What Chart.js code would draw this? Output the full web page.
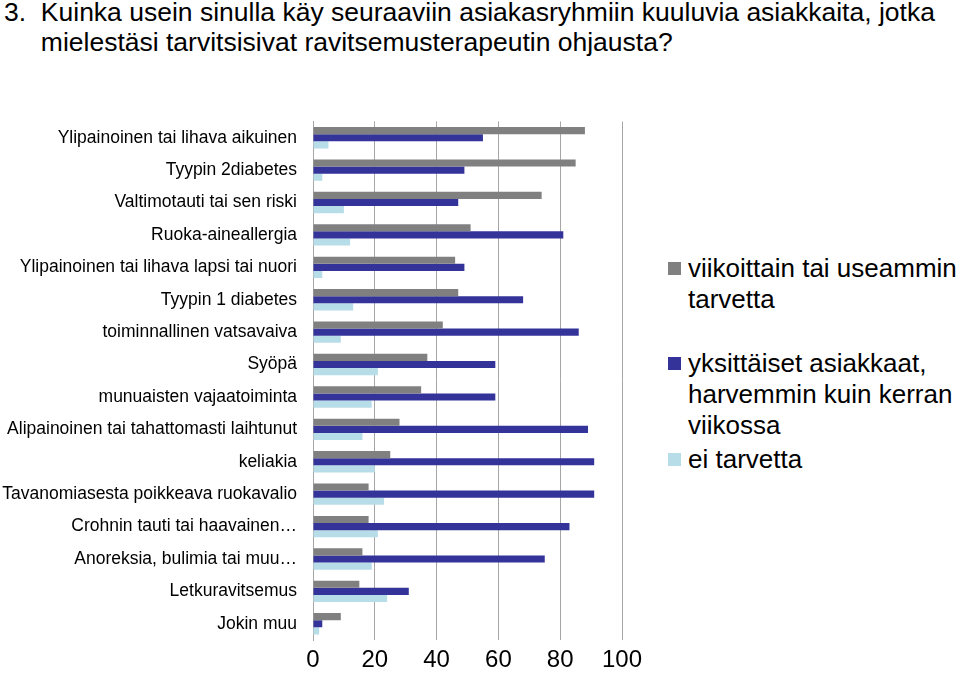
<!DOCTYPE html>
<html><head><meta charset="utf-8">
<script src="https://cdn.jsdelivr.net/npm/chart.js@4/dist/chart.umd.min.js"></script>
<style>
body{margin:0;width:960px;height:681px;position:relative;background:#fff;font-family:"Liberation Sans",Arial,sans-serif;overflow:hidden}
#title{position:absolute;left:4px;top:-3px;font-size:26.5px;line-height:30px;color:#000;white-space:pre}
#wrap{position:absolute;left:0;top:95px;width:650px;height:586px}
#legend{position:absolute;left:668px;top:253px;width:300px;font-size:26px;line-height:31px;color:#000}
.it{position:relative;padding-left:20px;margin-bottom:33px}
.it span{position:absolute;left:0;top:9px;width:13px;height:13px}
</style></head><body>
<div id="title">3.  Kuinka usein sinulla käy seuraaviin asiakasryhmiin kuuluvia asiakkaita, jotka
     mielestäsi tarvitsisivat ravitsemusterapeutin ohjausta?</div>
<div id="wrap"><canvas id="c"></canvas></div>
<div id="legend">
<div class="it"><span style="background:#808080"></span>viikoittain tai useammin tarvetta</div>
<div class="it" style="margin-bottom:3px"><span style="background:#333399"></span>yksittäiset asiakkaat, harvemmin kuin kerran viikossa</div>
<div class="it"><span style="background:#b7dde8"></span>ei tarvetta</div>
</div>
<script>
const categories=["Ylipainoinen tai lihava aikuinen","Tyypin 2diabetes","Valtimotauti tai sen riski","Ruoka-aineallergia","Ylipainoinen tai lihava lapsi tai nuori","Tyypin 1 diabetes","toiminnallinen vatsavaiva","Syöpä","munuaisten vajaatoiminta","Alipainoinen tai tahattomasti laihtunut","keliakia","Tavanomiasesta poikkeava ruokavalio","Crohnin tauti tai haavainen…","Anoreksia, bulimia tai muu…","Letkuravitsemus","Jokin muu"];
const weekly=[88,85,74,51,46,47,42,37,35,28,25,18,18,16,15,9];
const single=[55,49,47,81,49,68,86,59,59,89,91,91,83,75,31,3];
const none=[5,3,10,12,3,13,9,21,19,16,20,23,21,19,24,2];
const xTicks=[0,20,40,60,80,100];
new Chart(document.getElementById('c'),{type:'bar',
data:{labels:categories,datasets:[
{label:"viikoittain tai useammin tarvetta",data:weekly,backgroundColor:'#808080'},
{label:"yksittäiset asiakkaat",data:single,backgroundColor:'#333399'},
{label:"ei tarvetta",data:none,backgroundColor:'#b7dde8'}]},
options:{indexAxis:'y',responsive:true,maintainAspectRatio:false,animation:false,
layout:{padding:{top:3,right:28,left:0,bottom:0}},
plugins:{legend:{display:false},tooltip:{enabled:false}},
datasets:{bar:{categoryPercentage:0.66,barPercentage:1}},
scales:{
x:{min:0,max:100,afterBuildTicks:a=>{a.ticks=xTicks.map(v=>({value:v}));},
 grid:{color:'#a6a6a6',drawTicks:false},border:{display:false},
 ticks:{color:'#000',font:{size:24,family:'Liberation Sans'},padding:6},
 afterFit:a=>{a.height=41;}},
y:{grid:{display:false,drawTicks:false},border:{color:'#a6a6a6'},
 ticks:{color:'#000',font:{size:17.5,family:'Liberation Sans'},autoSkip:false,padding:16},
 afterFit:a=>{a.width=313;}}}}});
</script></body></html>
